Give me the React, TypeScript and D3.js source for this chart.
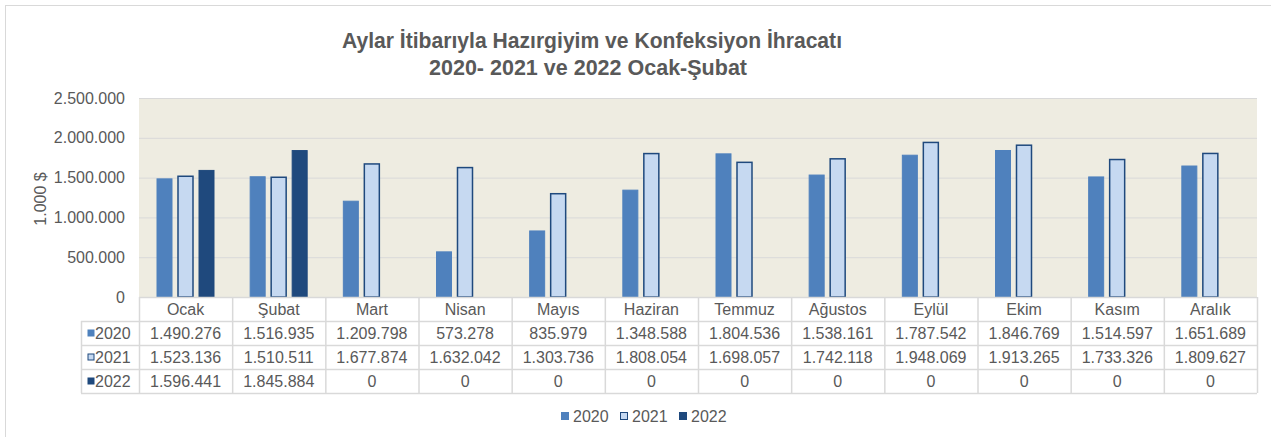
import * as d3 from 'd3';

const months = ['Ocak', 'Şubat', 'Mart', 'Nisan', 'Mayıs', 'Haziran', 'Temmuz', 'Ağustos', 'Eylül', 'Ekim', 'Kasım', 'Aralık'];
const years = ['2020', '2021', '2022'];
const values2020 = [1490276, 1516935, 1209798, 573278, 835979, 1348588, 1804536, 1538161, 1787542, 1846769, 1514597, 1651689];
const values2021 = [1523136, 1510511, 1677874, 1632042, 1303736, 1808054, 1698057, 1742118, 1948069, 1913265, 1733326, 1809627];
const values2022 = [1596441, 1845884, 0, 0, 0, 0, 0, 0, 0, 0, 0, 0];
const yTicks = [0, 500000, 1000000, 1500000, 2000000, 2500000];

const series = [values2020, values2021, values2022];
const fills = ['#4F81BD', '#C6D9F1', '#1F497D'];
const strokes = ['#4F81BD', '#1F497D', '#1F497D'];

const W = 1271;
const H = 437;
const plot = { left: 139, right: 1257, top: 98, bottom: 297 };
const rowH = 24;
const legendColX = 81;
const txt = '#595959';
const gridC = '#D9D9D9';
const font = '"Liberation Sans", Arial, sans-serif';

const fmt = (v: number) => (v === 0 ? '0' : d3.format(',')(v).replace(/,/g, '.'));

export default function App() {
  const x = d3.scaleBand<string>().domain(months).range([plot.left, plot.right]);
  const xi = d3.scaleBand<string>().domain(years).range([17.5, 75.5]).paddingInner(0.238);
  const y = d3.scaleLinear().domain([0, 2500000]).range([plot.bottom, plot.top]);

  const tableBottom = plot.bottom + rowH * 4;

  return (
    <svg width={W} height={H} style={{ position: 'absolute', left: 0, top: 0, fontFamily: font }}>
      <rect x={0} y={0} width={W} height={H} fill="#fff" />
      <line x1={5.5} x2={5.5} y1={5} y2={H} stroke="#D9D9D9" />
      <line x1={5} x2={W} y1={5.5} y2={5.5} stroke="#D9D9D9" />

      <g fill={txt} fontWeight="bold" fontSize={22} textAnchor="middle">
        <text x={592} y={48} textLength={500} lengthAdjust="spacingAndGlyphs">Aylar İtibarıyla Hazırgiyim ve Konfeksiyon İhracatı</text>
        <text x={588} y={75} textLength={318} lengthAdjust="spacingAndGlyphs">2020- 2021 ve 2022 Ocak-Şubat</text>
      </g>

      <rect x={plot.left} y={plot.top} width={plot.right - plot.left} height={plot.bottom - plot.top} fill="#EEECE1" />
      {yTicks.map(t => (
        <g key={t}>
          <line x1={plot.left} x2={plot.right} y1={y(t) + 0.5} y2={y(t) + 0.5} stroke={gridC} />
          <text x={125} y={y(t) + 5.5} fontSize={16} fill={txt} textAnchor="end">{fmt(t)}</text>
        </g>
      ))}
      <text transform={`translate(46,199) rotate(-90)`} fontSize={16} fill={txt} textAnchor="middle">1.000 $</text>

      {series.map((vals, si) => (
        <g key={years[si]}>
          {months.map((m, i) => {
            const v = vals[i];
            if (!v) return null;
            const bx = (x(m) as number) + (xi(years[si]) as number);
            return (
              <rect
                key={m}
                x={bx + 0.5}
                y={y(v) + 0.5}
                width={xi.bandwidth() - 1}
                height={y(0) - y(v) - 0.5}
                fill={fills[si]}
                stroke={strokes[si]}
                strokeWidth={si === 1 ? 1.5 : 1}
              />
            );
          })}
        </g>
      ))}

      {/* data table */}
      <g stroke={gridC} strokeWidth={1.5}>
        <line x1={plot.left} x2={plot.right} y1={plot.bottom + 0.5} y2={plot.bottom + 0.5} />
        {[1, 2, 3, 4].map(r => (
          <line key={r} x1={legendColX} x2={plot.right} y1={plot.bottom + r * rowH + 0.5} y2={plot.bottom + r * rowH + 0.5} />
        ))}
        <line x1={legendColX + 0.5} x2={legendColX + 0.5} y1={plot.bottom + rowH} y2={tableBottom} />
        {months.map(m => (
          <line key={m} x1={(x(m) as number) + 0.5} x2={(x(m) as number) + 0.5} y1={plot.bottom} y2={tableBottom} />
        ))}
        <line x1={plot.right + 0.5} x2={plot.right + 0.5} y1={plot.bottom} y2={tableBottom} />
      </g>
      <g fontSize={16} fill={txt} textAnchor="middle">
        {months.map(m => (
          <text key={m} x={(x(m) as number) + x.bandwidth() / 2} y={plot.bottom + 18}>{m}</text>
        ))}
        {series.map((vals, si) =>
          vals.map((v, i) => (
            <text key={`${si}-${i}`} x={(x(months[i]) as number) + x.bandwidth() / 2} y={plot.bottom + rowH * (si + 1) + 18}>
              {fmt(v)}
            </text>
          ))
        )}
      </g>
      {years.map((yr, si) => (
        <g key={yr}>
          <rect x={88} y={plot.bottom + rowH * (si + 1) + 9} width={6} height={6} fill={fills[si]} stroke={strokes[si]} />
          <text x={95} y={plot.bottom + rowH * (si + 1) + 18} fontSize={16} fill={txt}>{yr}</text>
        </g>
      ))}

      {/* legend */}
      {years.map((yr, si) => (
        <g key={yr} transform={`translate(${561 + si * 59},0)`}>
          <rect x={0.5} y={412.5} width={7} height={7} fill={fills[si]} stroke={strokes[si]} />
          <text x={12} y={422} fontSize={16} fill={txt}>{yr}</text>
        </g>
      ))}
    </svg>
  );
}
